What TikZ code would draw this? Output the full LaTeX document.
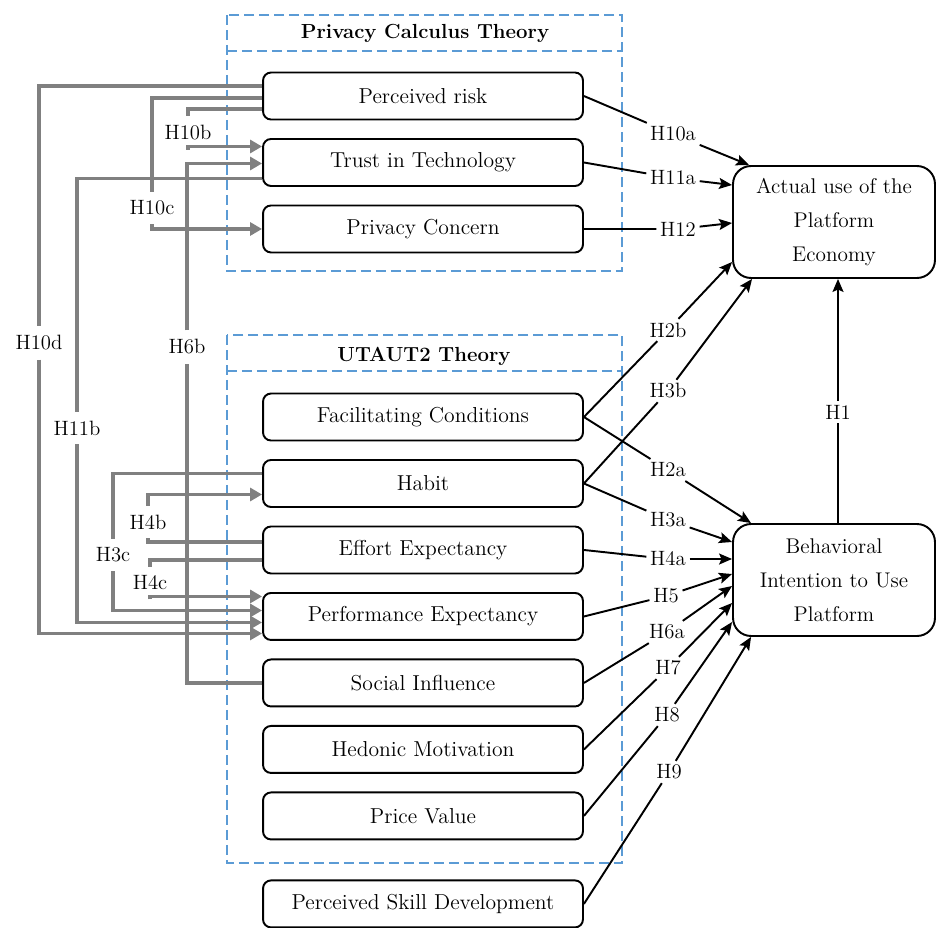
\documentclass[tikz,border=0pt]{standalone}
\usetikzlibrary{positioning, calc, arrows.meta}
\definecolor{theoryblue}{RGB}{91,155,213}
\definecolor{linkgrey}{RGB}{128,128,128}
\tikzset{
    node distance=1.33cm, % centre to centre distance of the construct boxes
    construct/.style={draw, line width=1.1pt, rounded corners=0.16cm, minimum width=6.4cm, minimum height=0.94cm,
        font=\fontsize{12.3}{15}\selectfont},
    outcome/.style={draw, line width=1.1pt, rounded corners=0.36cm, minimum width=4.04cm, minimum height=2.24cm, align=center,
        font=\fontsize{12.1}{19.3}\selectfont},
    theory/.style={draw=theoryblue, line width=1.2pt, dash pattern=on 0.2cm off 0.1cm},
    theorytitle/.style={font=\fontsize{11.6}{14}\selectfont\bfseries},
    hlabel/.style={inner sep=2pt}, % labels of the direct effects
    mlabel/.style={inner xsep=1pt, inner ysep=5pt}, % labels of the grey links
    effect/.style={draw, line width=1.1pt},
    effectarrow/.style={effect, -{Stealth[length=0.26cm, width=0.22cm, inset=0.05cm]}},
    mediation/.style={draw=linkgrey, line width=1.8pt},
    mediationarrow/.style={mediation, -{Triangle[length=0.24cm, width=0.26cm]}},
}

\begin{document}
\begin{tikzpicture}[x=0.02cm, y=-0.02cm, font=\fontsize{11.8}{19.3}\selectfont]
    \useasboundingbox (0,0) rectangle (937,927);

    % theory frames
    \draw[theory] (227,15) rectangle (622,271);
    \draw[theory] (227,51) -- (622,51);
    \node[theorytitle] (PCT) at (425,33) {Privacy Calculus Theory};
    \draw[theory] (227,335) rectangle (622,863);
    \draw[theory] (227,371) -- (622,371);
    \node[theorytitle] (UTT) at (424,356) {UTAUT2 Theory};

    % constructs
    \node[construct] (PR) at (423,96) {Perceived risk};
    \node[construct, below of=PR] (TT) {Trust in Technology};
    \node[construct, below of=TT] (PC) {Privacy Concern};
    \node[construct] (FC) at (423,417) {Facilitating Conditions};
    \node[construct, below of=FC] (HB) {Habit};
    \node[construct, below of=HB] (EE) {Effort Expectancy};
    \node[construct, below of=EE] (PE) {Performance Expectancy};
    \node[construct, below of=PE] (SI) {Social Influence};
    \node[construct, below of=SI] (HM) {Hedonic Motivation};
    \node[construct, below of=HM] (PV) {Price Value};
    \node[construct, below of=PV, node distance=1.76cm] (PSD) {Perceived Skill Development};

    % outcomes
    \node[outcome] (AU) at (834,222) {Actual use of the\\Platform\\Economy};
    \node[outcome] (BI) at (834,580) {Behavioral\\Intention to Use\\Platform};

    % labels of the direct effects
    \node[hlabel] (h10a) at (673,134) {H10a};
    \node[hlabel] (h11a) at (673,178) {H11a};
    \node[hlabel] (h12) at (678,229) {H12};
    \node[hlabel] (h2b) at (668,330) {H2b};
    \node[hlabel] (h3b) at (668,391) {H3b};
    \node[hlabel] (h1) at (838,412) {H1};
    \node[hlabel] (h2a) at (668,470) {H2a};
    \node[hlabel] (h3a) at (668,520) {H3a};
    \node[hlabel] (h4a) at (668,559) {H4a};
    \node[hlabel] (h5) at (666,596) {H5};
    \node[hlabel] (h6a) at (667,632) {H6a};
    \node[hlabel] (h7) at (668,668) {H7};
    \node[hlabel] (h8) at (667,715) {H8};
    \node[hlabel] (h9) at (669,772) {H9};

    % labels of the grey links
    \node[mlabel] (h10b) at (188,133) {H10b};
    \node[mlabel] (h10c) at (152,208) {H10c};
    \node[mlabel] (h10d) at (39,343) {H10d};
    \node[mlabel] (h6b) at (187,347) {H6b};
    \node[mlabel] (h11b) at (77,428) {H11b};
    \node[mlabel] (h4b) at (148,522) {H4b};
    \node[mlabel] (h3c) at (113,555) {H3c};
    \node[mlabel] (h4c) at (150,583) {H4c};

    % direct effects: box -> label -> outcome
    \draw[effect] (PR.east) -- (h10a);
    \draw[effectarrow] (h10a) -- ($(AU.north west)+(17,0)$);
    \draw[effect] (TT.east) -- (h11a);
    \draw[effectarrow] (h11a) -- ($(AU.west)+(0,-37)$);
    \draw[effect] (PC.east) -- (h12);
    \draw[effectarrow] (h12) -- ($(AU.west)+(0,1)$);
    \draw[effect] (FC.east) -- (h2b);
    \draw[effectarrow] (h2b) -- ($(AU.west)+(0,40)$);
    \draw[effect] (HB.east) -- (h3b);
    \draw[effectarrow] (h3b) -- ($(AU.south west)+(20,0)$);
    \draw[effect] (BI.north -| h1) -- (h1);
    \draw[effectarrow] (h1) -- (AU.south -| h1);
    \draw[effect] (FC.east) -- (h2a);
    \draw[effectarrow] (h2a) -- ($(BI.north west)+(19,0)$);
    \draw[effect] (HB.east) -- (h3a);
    \draw[effectarrow] (h3a) -- ($(BI.west)+(0,-38)$);
    \draw[effect] (EE.east) -- (h4a);
    \draw[effectarrow] (h4a) -- ($(BI.west)+(0,-21)$);
    \draw[effect] (PE.east) -- (h5);
    \draw[effectarrow] (h5) -- ($(BI.west)+(0,-6)$);
    \draw[effect] (SI.east) -- (h6a);
    \draw[effectarrow] (h6a) -- ($(BI.west)+(0,6)$);
    \draw[effect] (HM.east) -- (h7);
    \draw[effectarrow] (h7) -- ($(BI.west)+(0,23)$);
    \draw[effect] (PV.east) -- (h8);
    \draw[effectarrow] (h8) -- ($(BI.west)+(0,42)$);
    \draw[effect] (PSD.east) -- (h9);
    \draw[effectarrow] (h9) -- ($(BI.south west)+(19,0)$);

    % grey links on the left
    \draw[mediation] ($(PR.west)+(0,13)$) -| (h10b.north);
    \draw[mediationarrow] (h10b.south) |- ($(TT.west)+(0,-16)$);
    \draw[mediation] ($(PR.west)+(0,2)$) -| (h10c.north);
    \draw[mediationarrow] (h10c.south) |- (PC.west);
    \draw[mediation] ($(PR.west)+(0,-10)$) -| (h10d.north);
    \draw[mediationarrow] (h10d.south) |- ($(PE.west)+(0,17)$);
    \draw[mediation] ($(TT.west)+(0,16)$) -| (h11b.north);
    \draw[mediationarrow] (h11b.south) |- ($(PE.west)+(0,6)$);
    \draw[mediation] (SI.west) -| (h6b.south);
    \draw[mediationarrow] (h6b.north) |- ($(TT.west)+(0,1)$);
    \draw[mediation] ($(HB.west)+(0,-10)$) -| (h3c.north);
    \draw[mediationarrow] (h3c.south) |- ($(PE.west)+(0,-6)$);
    \draw[mediation] ($(EE.west)+(0,-8)$) -| (h4b.south);
    \draw[mediationarrow] (h4b.north) |- ($(HB.west)+(0,11)$);
    \draw[mediation] ($(EE.west)+(0,10)$) -| (h4c.north);
    \draw[mediationarrow] (h4c.south) |- ($(PE.west)+(0,-20)$);
\end{tikzpicture}
\end{document}
